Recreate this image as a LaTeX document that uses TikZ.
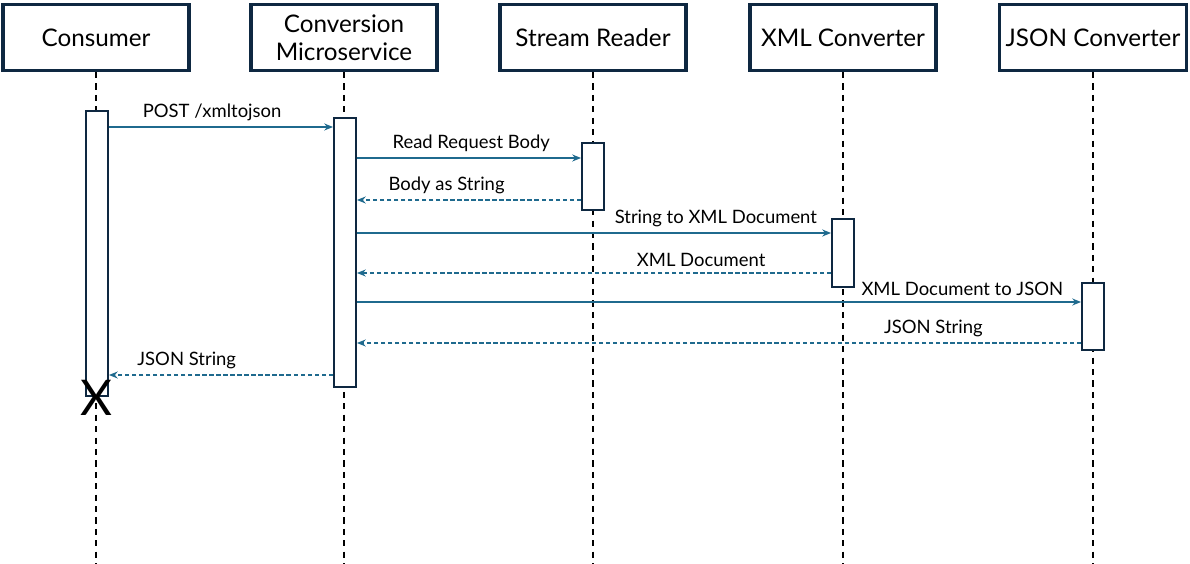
\documentclass[tikz,border=0pt]{standalone}
\usepackage{fontspec}
\setmainfont{Lato}
\usetikzlibrary{arrows.meta}
\definecolor{navy}{HTML}{0E2841}
\definecolor{msgblue}{HTML}{1F6A8E}
\begin{document}
\begin{tikzpicture}[x=0.02cm,y=-0.02cm,
    head/.style={draw=navy,line width=1.8pt,minimum width=3.72cm,minimum height=1.32cm,align=center,font=\fontsize{13.8}{16}\selectfont},
    act/.style={draw=navy,line width=1.1pt,fill=white,minimum width=0.44cm,inner sep=0pt},
    life/.style={line width=1.1pt,dash pattern=on 3.5pt off 3pt},
    msg/.style={msgblue,line width=0.8pt,-{Stealth[length=5pt,width=4pt]}},
    reply/.style={msg,dash pattern=on 2.5pt off 1.5pt},
    lbl/.style={above=0pt,font=\fontsize{10.5}{12}\selectfont,text=black}]
  \useasboundingbox (0,0) rectangle (1190,564);
  % participants
  \node[head] (consumer) at (96,37.5) {Consumer};
  \node[head] (service) at (344,37.5) {Conversion\\Microservice};
  \node[head] (reader) at (593,37.5) {Stream Reader};
  \node[head] (xmlconv) at (843,37.5) {XML Converter};
  \node[head] (jsonconv) at (1093,37.5) {JSON Converter};
  % lifelines
  \foreach \p in {consumer,service,reader,xmlconv,jsonconv}
    \draw[life] (\p.south) -- (\p.south |- 0,564);
  % activations
  \node[act,minimum height=5.7cm] (aconsumer) at (97,253.5) {};
  \node[act,minimum height=5.38cm] (aservice) at (345,252.5) {};
  \node[act,minimum height=1.34cm] (areader) at (593,176.5) {};
  \node[act,minimum height=1.36cm] (axml) at (843,253) {};
  \node[act,minimum height=1.34cm] (ajson) at (1093,316.5) {};
  % messages
  \draw[msg] (aconsumer.east |- 0,127) -- node[lbl,pos=0.46]{POST /xmltojson} (aservice.west |- 0,127);
  \draw[msg] (aservice.east |- 0,158) -- node[lbl,pos=0.51]{Read Request Body} (areader.west |- 0,158);
  \draw[reply] (areader.west |- 0,200) -- node[lbl,pos=0.6]{Body as String} (aservice.east |- 0,200);
  \draw[msg] (aservice.east |- 0,233) -- node[lbl,pos=0.757]{String to XML Document} (axml.west |- 0,233);
  \draw[reply] (axml.west |- 0,273) -- node[lbl,pos=0.274]{XML Document} (aservice.east |- 0,273);
  \draw[msg] (aservice.east |- 0,302) -- node[lbl,pos=0.836]{XML Document to JSON} (ajson.west |- 0,302);
  \draw[reply] (ajson.west |- 0,343) -- node[lbl,pos=0.204]{JSON String} (aservice.east |- 0,343);
  \draw[reply] (aservice.west |- 0,375) -- node[lbl,pos=0.653]{JSON String} (aconsumer.east |- 0,375);
  % destruction
  \node[font=\fontsize{28}{28}\selectfont,inner sep=0pt] (xend) at (96,398) {X};
\end{tikzpicture}
\end{document}
